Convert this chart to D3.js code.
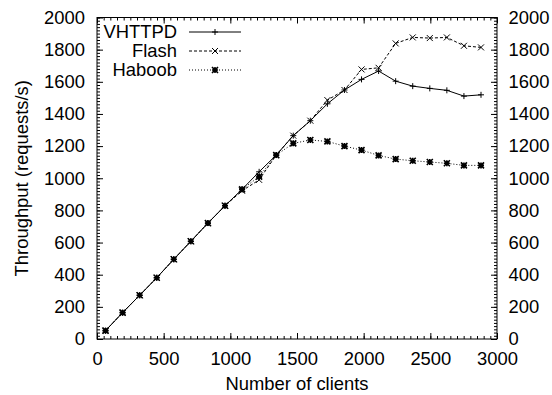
<!DOCTYPE html>
<html>
<head>
<meta charset="utf-8">
<script src="https://cdn.jsdelivr.net/npm/d3@7"></script>
<style>
  body { margin: 0; background: #fff; }
  svg { font-family: "Liberation Sans", Arial, sans-serif; }
  .axis path { display: none; }
  .axis line { stroke: #000; stroke-width: 1; }
  .axis text { fill: #000; font-size: 18.4px; }
</style>
</head>
<body>
<div id="chart"></div>
<script>
// number of clients for each measurement
const clients = [64, 192, 320, 448, 576, 704, 832, 960, 1088, 1216, 1344, 1472,
  1600, 1728, 1856, 1984, 2112, 2240, 2368, 2496, 2624, 2752, 2880];

// throughput (requests/s)
const vhttpd = [52, 164, 272, 381, 496, 608, 721, 829, 931, 1040, 1144, 1265,
  1358, 1463, 1549, 1615, 1667, 1604, 1573, 1559, 1547, 1511, 1519];
const flash = [52, 164, 272, 381, 496, 608, 721, 829, 922, 990, 1144, 1265,
  1358, 1486, 1549, 1677, 1687, 1839, 1876, 1872, 1876, 1824, 1814];
const haboob = [52, 164, 272, 381, 496, 608, 721, 829, 931, 1010, 1144, 1217,
  1238, 1229, 1200, 1175, 1142, 1119, 1109, 1101, 1093, 1080, 1080];

const seriesNames = ["VHTTPD", "Flash", "Haboob"];
const xTicks = [0, 500, 1000, 1500, 2000, 2500, 3000];
const yTicks = [0, 200, 400, 600, 800, 1000, 1200, 1400, 1600, 1800, 2000];

const width = 552, height = 395;
const margin = { top: 17.5, right: 55, bottom: 56, left: 97 };
const fontSize = "18.4px";

const svg = d3.select("#chart").append("svg")
  .attr("width", width)
  .attr("height", height);

const x = d3.scaleLinear().domain([0, 3000]).range([margin.left, width - margin.right]);
const y = d3.scaleLinear().domain([0, 2000]).range([height - margin.bottom, margin.top]);

const x0 = x.range()[0], x1 = x.range()[1];
const y0 = y.range()[0], y1 = y.range()[1];

const xMinor = d3.range(0, 3001, 50);
const yMinor = d3.range(0, 2001, 20);

// minor ticks on all four sides
svg.append("g").attr("class", "axis").attr("transform", `translate(0,${y0})`)
  .call(d3.axisBottom(x).tickValues(xMinor).tickSize(-3).tickFormat(""));
svg.append("g").attr("class", "axis").attr("transform", `translate(0,${y1})`)
  .call(d3.axisTop(x).tickValues(xMinor).tickSize(-3).tickFormat(""));
svg.append("g").attr("class", "axis").attr("transform", `translate(${x0},0)`)
  .call(d3.axisLeft(y).tickValues(yMinor).tickSize(-3).tickFormat(""));
svg.append("g").attr("class", "axis").attr("transform", `translate(${x1},0)`)
  .call(d3.axisRight(y).tickValues(yMinor).tickSize(-3).tickFormat(""));

// major ticks + labels
svg.append("g").attr("class", "axis").attr("transform", `translate(0,${y0})`)
  .call(d3.axisBottom(x).tickValues(xTicks).tickSize(-6).tickPadding(12.5).tickFormat(d3.format("d")));
svg.append("g").attr("class", "axis").attr("transform", `translate(0,${y1})`)
  .call(d3.axisTop(x).tickValues(xTicks).tickSize(-6).tickFormat(""));
svg.append("g").attr("class", "axis").attr("transform", `translate(${x0},0)`)
  .call(d3.axisLeft(y).tickValues(yTicks).tickSize(-6).tickPadding(12).tickFormat(d3.format("d")));
svg.append("g").attr("class", "axis").attr("transform", `translate(${x1},0)`)
  .call(d3.axisRight(y).tickValues(yTicks).tickSize(-6).tickPadding(11.5).tickFormat(d3.format("d")));

// frame
svg.append("rect")
  .attr("x", x0).attr("y", y1)
  .attr("width", x1 - x0).attr("height", y0 - y1)
  .attr("fill", "none").attr("stroke", "#000").attr("stroke-width", 1);

// axis titles
svg.append("text")
  .attr("x", (x0 + x1) / 2).attr("y", 390)
  .attr("text-anchor", "middle")
  .style("font-size", fontSize)
  .text("Number of clients");

svg.append("text")
  .attr("transform", `translate(22,${(y0 + y1) / 2}) rotate(-90)`)
  .attr("text-anchor", "middle")
  .attr("dy", "0.35em")
  .style("font-size", fontSize)
  .text("Throughput (requests/s)");

// series
const series = [
  { name: seriesNames[0], values: vhttpd, dash: null, marker: "plus" },
  { name: seriesNames[1], values: flash, dash: "3,2", marker: "cross" },
  { name: seriesNames[2], values: haboob, dash: "1,2", marker: "star" }
];

const line = d3.line()
  .x(d => x(d[0]))
  .y(d => y(d[1]));

function markerPath(type, r) {
  const plus = `M${-r},0H${r}M0,${-r}V${r}`;
  const cross = `M${-r},${-r}L${r},${r}M${-r},${r}L${r},${-r}`;
  if (type === "plus") return plus;
  if (type === "cross") return cross;
  return plus + cross;
}

series.forEach(s => {
  const pts = clients.map((c, i) => [c, s.values[i]]);
  svg.append("path")
    .datum(pts)
    .attr("d", line)
    .attr("fill", "none")
    .attr("stroke", "#000")
    .attr("stroke-width", 1)
    .attr("stroke-dasharray", s.dash);

  svg.append("g")
    .selectAll("path")
    .data(pts)
    .enter()
    .append("path")
    .attr("transform", d => `translate(${x(d[0])},${y(d[1])})`)
    .attr("d", markerPath(s.marker, 3))
    .attr("fill", "none")
    .attr("stroke", "#000")
    .attr("stroke-width", s.marker === "star" ? 1.6 : 1);
});

// legend
const legendItem = svg.append("g")
  .selectAll("g")
  .data(series)
  .enter()
  .append("g")
  .attr("transform", (d, i) => `translate(0,${32 + i * 19})`);

legendItem.append("text")
  .attr("x", 177)
  .attr("dy", "0.35em")
  .attr("text-anchor", "end")
  .style("font-size", fontSize)
  .text(d => d.name);

legendItem.append("line")
  .attr("x1", 189).attr("x2", 241)
  .attr("stroke", "#000")
  .attr("stroke-width", 1)
  .attr("stroke-dasharray", d => d.dash);

legendItem.append("path")
  .attr("transform", "translate(215,0)")
  .attr("d", d => markerPath(d.marker, 3))
  .attr("fill", "none")
  .attr("stroke", "#000")
  .attr("stroke-width", d => d.marker === "star" ? 1.6 : 1);
</script>
</body>
</html>
